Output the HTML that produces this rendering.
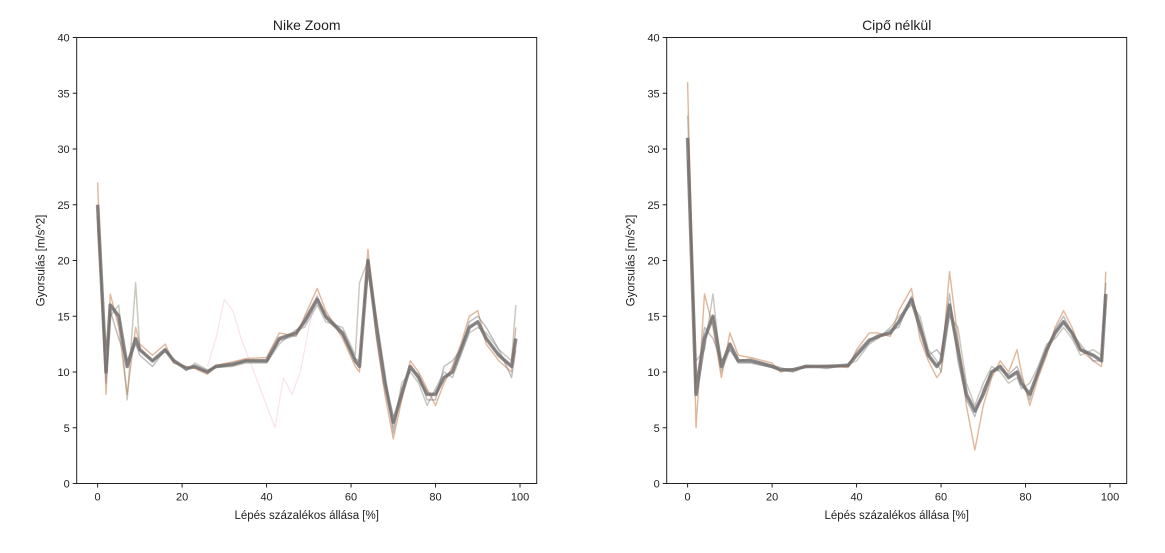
<!DOCTYPE html>
<html><head><meta charset="utf-8"><style>
body{margin:0;background:#fff;}
svg text{font-family:"Liberation Sans","DejaVu Sans",sans-serif;fill:#222;}
</style></head><body>
<svg id="chart" width="1165" height="548" xmlns="http://www.w3.org/2000/svg"></svg>
<script>
// ---- data ----
const xTicks=[0,20,40,60,80,100];
const yTicks=[0,5,10,15,20,25,30,35,40];
const leftX=[0,2,3,5,7,9,10,13,16,18,21,23,26,28,32,35,40,43,47,49,52,54,58,61,62,64,66,68,70,72,74,76,78,80,82,84,86,88,90,92,95,98,99];
const leftMean=[25,10,16,15,10.5,13,12,11,12,11,10.3,10.5,10,10.5,10.7,11,11,13,13.5,14.5,16.5,15,13.5,11,10.5,20,14,9,5.5,8,10.5,9.5,8,8,9.5,10,12,14,14.5,13,11.5,10.5,13];
const leftT1=[27,8,17,14,8,14,12.5,11.5,12.5,10.8,10.5,10.3,9.8,10.6,10.9,11.2,11.3,13.5,13.2,15,17.5,15.5,13,10.5,10,21,13,8,4,7.5,11,10,8.5,7,9,10.5,12.5,15,15.5,12.5,11,10,14];
const leftT2=[23,12,15,16,7.5,18,12,11,11.8,11.2,10.1,10.8,10.2,10.4,10.5,10.8,10.8,12.5,13.8,14,16,14.5,14,11.5,18,20,15,10,5,9,10,9,7,8.5,10,9.5,11.5,13.5,14,13.5,12,11,16];
const leftT3=[24,9,15.5,13,11,12.5,11.5,10.5,12,11,10.4,10.4,10,10.5,10.6,11,10.9,12.8,13.3,14.8,16.8,14.8,13.3,11.2,11,19,14.5,9.5,4.5,8.5,10.2,9.8,7.5,7.5,10.5,11,12,14.5,15,14,12,9.5,12];
const leftOutX=[26,28,30,32,34,36,38,40,42,44,46,48,50,52];
const leftOut=[10.5,13,16.5,15.5,13,11,9,7,5,9.5,8,10,14,17];
const rightX=[0,2,4,6,8,10,12,15,20,22,25,28,33,38,40,43,45,48,50,53,55,57,59,60,62,64,66,68,70,72,74,76,78,79,81,83,85,87,89,91,93,96,98,99];
const rightMean=[31,8,13,15,10.5,12.5,11,11,10.5,10.2,10.2,10.5,10.5,10.6,11.5,12.8,13.2,13.5,14.5,16.5,14,11.5,10.5,11,16,12,8,6.5,8,10,10.5,9.5,10,9,8,10,12,13.5,14.5,13.5,12,11.5,11,17];
const rightT1=[36,5,17,14,9.5,13.5,11.5,11.3,10.8,10,10.3,10.4,10.6,10.4,12,13.5,13.5,13.2,15.5,17.5,13,11,9.5,10,19,13,7,3,7,9.5,11,10,12,10,7,9.5,11.5,14,15.5,14,12,11,10.5,19];
const rightT2=[33,11,12,17,10,12,11,11.2,10.6,10.4,10.1,10.6,10.3,10.7,11,12.5,13,14,15,16,15,12,11,10,15,14,9,7,9,10.5,10,9,9.5,8.5,9,10.5,12.5,13,14,13,11.5,12,11.5,16];
const rightT3=[29,9,14,13,11,12,10.8,10.8,10.4,10.2,10,10.5,10.5,10.5,11.8,13,13,13.8,14,16.8,14.5,11.5,12,11.5,17,11,7.5,6,8.5,10,10.2,9.8,10.5,9.5,7.5,10,12,13.8,15,13.5,12.5,11,11,18];
const colors=['#1f77b4','#ff7f0e','#2ca02c','#d62728','#9467bd','#8c564b','#e377c2','#17becf'];

const svg=document.getElementById('chart');
const NS='http://www.w3.org/2000/svg';
function mk(tag,attrs,parent){const e=document.createElementNS(NS,tag);for(const k in attrs)e.setAttribute(k,attrs[k]);(parent||svg).appendChild(e);return e;}

function panel(px0,px1,title,key,seriesX,traces,extra){
  const py0=37.5,py1=483.5,xmin=-4.95,xmax=103.95;
  const sx=v=>px0+(v-xmin)/(xmax-xmin)*(px1-px0);
  const sy=v=>py1-(v/40)*(py1-py0);
  const g=mk('g',{});
  
  
  const line=(xs,ys,col,w,op,name)=>{
    const p=mk('polyline',{points:xs.map((x,i)=>sx(x)+','+sy(ys[i])).join(' '),fill:'none',stroke:col,'stroke-width':w,'stroke-opacity':op,'stroke-linejoin':'round'},g);
    
    
  };
  traces.forEach((t,i)=>{
    line(seriesX,t,colors[i%colors.length],1.4,0.3,key+'-trace-'+i);
    line(seriesX,t,colors[(i+4)%colors.length],1.4,0.25,key+'-trace-b-'+i);
  });
  if(extra) line(extra[0],extra[1],'#e377c2',1.2,0.22,key+'-outlier-trace');
  line(seriesX,traces[0],'#6f6a66',3.6,0.75,key+'-mean-bundle');
  const f=mk('rect',{x:px0,y:py0,width:px1-px0,height:py1-py0,fill:'none',stroke:'#222','stroke-width':1},g);
  
  
  xTicks.forEach(t=>{
    mk('line',{x1:sx(t),x2:sx(t),y1:py1,y2:py1+4,stroke:'#222'},g);
    const tx=mk('text',{x:sx(t),y:py1+17,'text-anchor':'middle','font-size':11},g);
    tx.textContent=t;
    
    
  });
  yTicks.forEach(t=>{
    mk('line',{x1:px0-4,x2:px0,y1:sy(t),y2:sy(t),stroke:'#222'},g);
    const tx=mk('text',{x:px0-7,y:sy(t)+4,'text-anchor':'end','font-size':11},g);
    tx.textContent=t;
    
    
  });
  const tt=mk('text',{x:(px0+px1)/2,y:30,'text-anchor':'middle','font-size':14},g);
  tt.textContent=title;
  
  
  const xl=mk('text',{x:(px0+px1)/2,y:519,'text-anchor':'middle','font-size':11.5},g);
  xl.textContent='Lépés százalékos állása [%]';
  
  
  const yl=mk('text',{x:0,y:0,'text-anchor':'middle','font-size':11.5,transform:'translate('+(px0-32)+','+((py0+py1)/2)+') rotate(-90)'},g);
  yl.textContent='Gyorsulás [m/s^2]';
  
  
}
panel(76.7,536.7,'Nike Zoom','nike-zoom',leftX,[leftMean,leftT1,leftT2,leftT3],[leftOutX,leftOut]);
panel(666.7,1126.7,'Cipő nélkül','cipo-nelkul',rightX,[rightMean,rightT1,rightT2,rightT3],null);
</script>
</body></html>
